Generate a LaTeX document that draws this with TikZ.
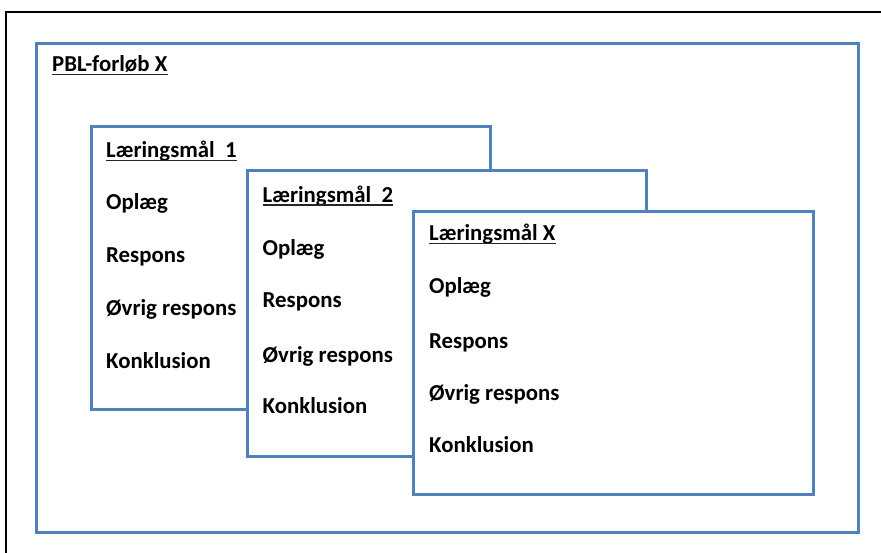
\documentclass[tikz,border=0pt]{standalone}
\usepackage{fontspec}
\setmainfont{Carlito}
\definecolor{boxblue}{HTML}{4F81BD}
\begin{document}
\begin{tikzpicture}[x=1pt,y=-1pt,
  bluebox/.style={draw=boxblue,line width=3pt,fill=white},
  lbl/.style={anchor=base west,inner sep=0pt,font=\fontsize{22.8}{26}\selectfont\bfseries},
  uline/.style={line width=1.5pt,black!85}]
\useasboundingbox (0,0) rectangle (881,553);
% page frame (cropped)
\draw[line width=1.5pt] (6,553) -- (6,12) -- (881,12);
% outer box
\node[bluebox,minimum width=822pt,minimum height=489pt,anchor=north west,inner sep=0pt] (outer) at (35,42) {};
\node[lbl] (pbl) at (52,72) {PBL-forløb X};
\draw[uline] ([yshift=-2.5pt]pbl.base west) -- ([yshift=-2.5pt]pbl.base east);
% box 1
\node[bluebox,minimum width=399pt,minimum height=283pt,anchor=north west,inner sep=0pt] (b1) at (90,125) {};
\node[lbl] (t1) at (106,158) {Læringsmål\ \ 1};
\draw[uline] ([yshift=-2.5pt]t1.base west) -- ([yshift=-2.5pt]t1.base east);
\node[lbl] (o1) at (106,210) {Oplæg};
\node[lbl] (r1) at (106,262.5) {Respons};
\node[lbl] (v1) at (106,316) {Øvrig respons};
\node[lbl] (k1) at (106,368.5) {Konklusion};
% box 2
\node[bluebox,minimum width=399pt,minimum height=286pt,anchor=north west,inner sep=0pt] (b2) at (246,169) {};
\node[lbl] (t2) at (262.5,202.5) {Læringsmål\ \ 2};
\draw[uline] ([yshift=-2.5pt]t2.base west) -- ([yshift=-2.5pt]t2.base east);
\node[lbl] (o2) at (262.5,256) {Oplæg};
\node[lbl] (r2) at (262.5,308) {Respons};
\node[lbl] (v2) at (262.5,362.5) {Øvrig respons};
\node[lbl] (k2) at (262.5,413.5) {Konklusion};
% box 3
\node[bluebox,minimum width=400pt,minimum height=283pt,anchor=north west,inner sep=0pt] (b3) at (412,210) {};
\node[lbl] (t3) at (429,241) {Læringsmål X};
\draw[uline] ([yshift=-2.5pt]t3.base west) -- ([yshift=-2.5pt]t3.base east);
\node[lbl] (o3) at (429,294) {Oplæg};
\node[lbl] (r3) at (429,348.5) {Respons};
\node[lbl] (v3) at (429,400.5) {Øvrig respons};
\node[lbl] (k3) at (429,452) {Konklusion};
\end{tikzpicture}
\end{document}
